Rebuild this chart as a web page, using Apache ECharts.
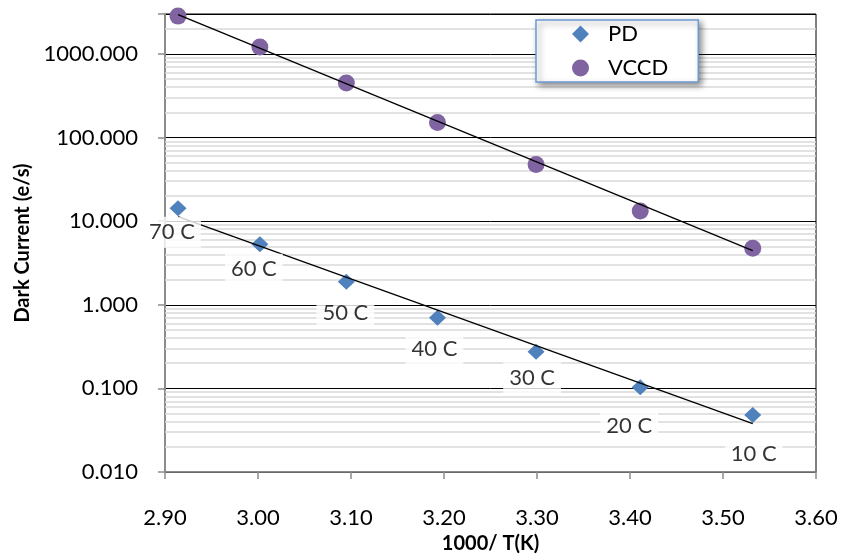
<!DOCTYPE html>
<html><head><meta charset="utf-8">
<script src="https://cdn.jsdelivr.net/npm/echarts@6/dist/echarts.min.js"></script>
<style>html,body{margin:0;padding:0;background:#fff}#c{width:841px;height:559px}</style>
</head><body><div id="c"></div>
<script>
// ---- data ----
const tempLabels = ['70 C', '60 C', '50 C', '40 C', '30 C', '20 C', '10 C'];
const invT = [2.914, 3.002, 3.095, 3.193, 3.299, 3.411, 3.532];
const pdValues = [14.3, 5.3, 1.88, 0.70, 0.275, 0.103, 0.048];
const vccdValues = [2830, 1210, 450, 151, 47.7, 13.2, 4.75];
const pdTrendX = [2.914, 3.532];
const pdTrendY = [11.3, 0.038];
const vccdTrendX = [2.914, 3.532];
const vccdTrendY = [2950, 4.43];
const xMin = 2.9, xMax = 3.6, xStep = 0.1;
const yMin = 0.01, yMax = 3000;
const minorMultipliers = [2, 3, 4, 5, 6, 7, 8, 9];
const decades = [0.01, 0.1, 1, 10, 100, 1000];

// ---- layout (label offsets for PD data labels) ----
const labelOffsets = [[-6, 24], [-6, 25], [-1, 31], [-3, 31], [-4, 26], [-11, 39], [1, 39]];

const FONT = 'Lato';
const minorValues = [];
decades.forEach(d => minorMultipliers.forEach(m => { const v = d * m; if (v < yMax) minorValues.push(v); }));

const chart = echarts.init(document.getElementById('c'), null, {renderer: 'canvas'});
chart.setOption({
  animation: false,
  backgroundColor: '#fff',
  grid: {left: 165, right: 25, top: 14, bottom: 87, show: true, borderColor: '#000', borderWidth: 1, backgroundColor: 'transparent'},
  legend: {
    data: [{name: 'PD', icon: 'diamond'}, {name: 'VCCD', icon: 'circle'}],
    orient: 'vertical', left: 536, top: 20,
    itemWidth: 17, itemHeight: 17, itemGap: 12,
    padding: [3, 30, 3, 36],
    backgroundColor: '#fff', borderColor: '#6d9ad6', borderWidth: 1.5,
    shadowBlur: 6, shadowColor: 'rgba(0,0,0,0.45)', shadowOffsetX: 3, shadowOffsetY: 3,
    textStyle: {fontFamily: FONT, fontSize: 22, lineHeight: 21, color: '#000', padding: [0, 0, 0, 14]},
    selectedMode: false
  },
  xAxis: {
    type: 'value', min: xMin, max: xMax, interval: xStep,
    name: '1000/ T(K)', nameLocation: 'middle', nameGap: 57,
    nameTextStyle: {fontFamily: FONT, fontSize: 20, fontWeight: 'bold', color: '#000'},
    axisLine: {show: true, lineStyle: {color: '#8c8c8c', width: 1.5}},
    axisTick: {show: true, inside: false, length: 7, lineStyle: {color: '#8c8c8c', width: 1.5}},
    axisLabel: {margin: 35, fontFamily: FONT, fontSize: 22, color: '#000', formatter: v => v.toFixed(2)},
    splitLine: {show: false}
  },
  yAxis: {
    type: 'log', logBase: 10, min: yMin, max: yMax,
    name: 'Dark Current (e/s)', nameLocation: 'middle', nameGap: 128,
    nameTextStyle: {fontFamily: FONT, fontSize: 20, fontWeight: 'bold', color: '#000'},
    axisLine: {show: true, lineStyle: {color: '#8c8c8c', width: 2}},
    axisTick: {show: true, inside: false, length: 7, lineStyle: {color: '#8c8c8c', width: 1.5}},
    axisLabel: {
      margin: 27, fontFamily: FONT, fontSize: 22, color: '#000',
      formatter: v => {
        const l = Math.log10(v);
        return Math.abs(l - Math.round(l)) < 1e-6 ? v.toFixed(3) : '';
      }
    },
    splitLine: {show: true, lineStyle: {color: '#000', width: 1}}
  },
  series: [
    {
      name: 'minor', type: 'scatter', z: 1, silent: true,
      data: [[invT[0], pdValues[0]]], symbolSize: 0, itemStyle: {color: 'transparent'},
      markLine: {
        z: 1, silent: true, symbol: ['none', 'none'], label: {show: false},
        lineStyle: {color: '#d9d9d9', width: 1.5, type: 'solid'},
        emphasis: {disabled: true},
        data: minorValues.map(v => ({yAxis: v}))
      }
    },
    {
      name: 'PD', type: 'scatter', z: 3, symbol: 'diamond', symbolSize: [17, 16],
      itemStyle: {color: '#4F81BD', opacity: 1},
      data: invT.map((x, i) => [x, pdValues[i]])
    },
    {
      name: 'VCCD', type: 'scatter', z: 3, symbol: 'circle', symbolSize: 17,
      itemStyle: {color: '#8064A2', opacity: 1},
      data: invT.map((x, i) => [x, vccdValues[i]])
    },
    {
      name: 'PD trend', type: 'line', z: 4, symbol: 'none', silent: true,
      lineStyle: {color: '#000', width: 1.3},
      data: pdTrendX.map((x, i) => [x, pdTrendY[i]])
    },
    {
      name: 'VCCD trend', type: 'line', z: 4, symbol: 'none', silent: true,
      lineStyle: {color: '#000', width: 1.3},
      data: vccdTrendX.map((x, i) => [x, vccdTrendY[i]])
    },
    {
      name: 'PD labels', type: 'scatter', z: 5, symbolSize: 1, silent: true,
      itemStyle: {color: 'transparent'},
      label: {
        show: true, position: 'inside', color: '#000', fontFamily: FONT, fontSize: 22,
        backgroundColor: '#fff', padding: [5, 6, 4, 6],
        formatter: p => tempLabels[p.dataIndex]
      },
      data: invT.map((x, i) => ({value: [x, pdValues[i]], label: {offset: labelOffsets[i]}}))
    }
  ]
});
</script>
</body></html>
